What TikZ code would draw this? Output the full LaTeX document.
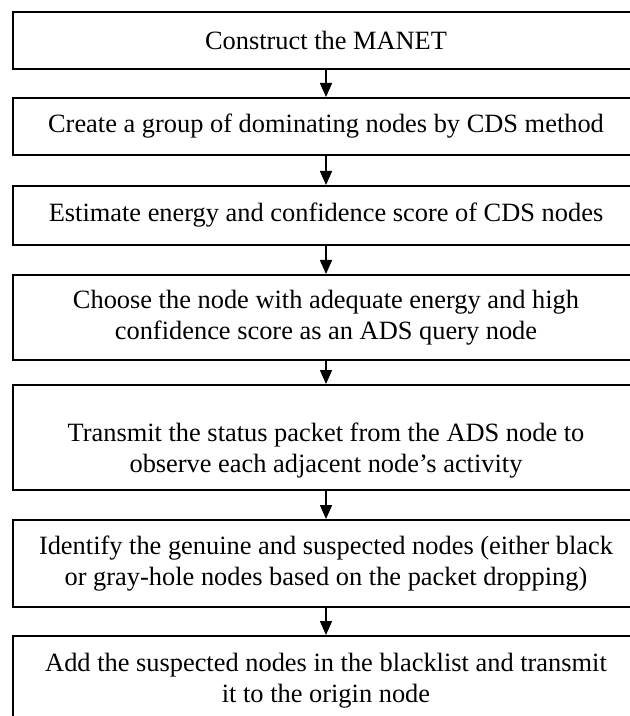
\documentclass[tikz,border=0pt]{standalone}
\usepackage{fontspec}
\setmainfont{Liberation Serif}
\usepackage{xcolor}
\usepackage{tikz}
\usetikzlibrary{arrows.meta,positioning}
\definecolor{cInk}{HTML}{000000}
\tikzset{
  stepbox/.style = {draw=cInk, line width=1pt, align=center, inner sep=2pt,
                    minimum width=313pt, minimum height=28.5pt,
                    font=\fontsize{13.2}{15.5}\selectfont},
  flow/.style    = {-{Triangle[length=7pt,width=6pt]}, line width=0.8pt, draw=cInk},
}

\begin{document}
\begin{tikzpicture}[node distance=13.5pt]
  \useasboundingbox (0,0) rectangle (314.5pt,-358pt);
  % ---- steps ----
  \node[stepbox, anchor=north] (build) at (163pt,-5.5pt)
    {Construct the MANET};
  \node[stepbox, below=13.5pt of build] (cds)
    {Create a group of dominating nodes by CDS method};
  \node[stepbox, below=14.5pt of cds, minimum height=29.5pt] (score)
    {Estimate energy and confidence score of CDS nodes};
  \node[stepbox, below=14pt of score, minimum height=42.5pt] (ads)
    {Choose the node with adequate energy and high\\
     confidence score as an ADS query node};
  \node[stepbox, below=11.5pt of ads, minimum height=52.5pt] (status)
    {\rule{0pt}{22pt}Transmit the status packet from the ADS node to\\
     observe each adjacent node's activity};
  \node[stepbox, below=14pt of status, minimum height=43.5pt] (detect)
    {Identify the genuine and suspected nodes (either black\\
     or gray-hole nodes based on the packet dropping)};
  \node[stepbox, below=13.5pt of detect, minimum height=45pt] (black)
    {Add the suspected nodes in the blacklist and transmit\\
     it to the origin node};
  % ---- arrows ----
  \draw[flow] (build) -- (cds);
  \draw[flow] (cds) -- (score);
  \draw[flow] (score) -- (ads);
  \draw[flow] (ads) -- (status);
  \draw[flow] (status) -- (detect);
  \draw[flow] (detect) -- (black);
\end{tikzpicture}
\end{document}
